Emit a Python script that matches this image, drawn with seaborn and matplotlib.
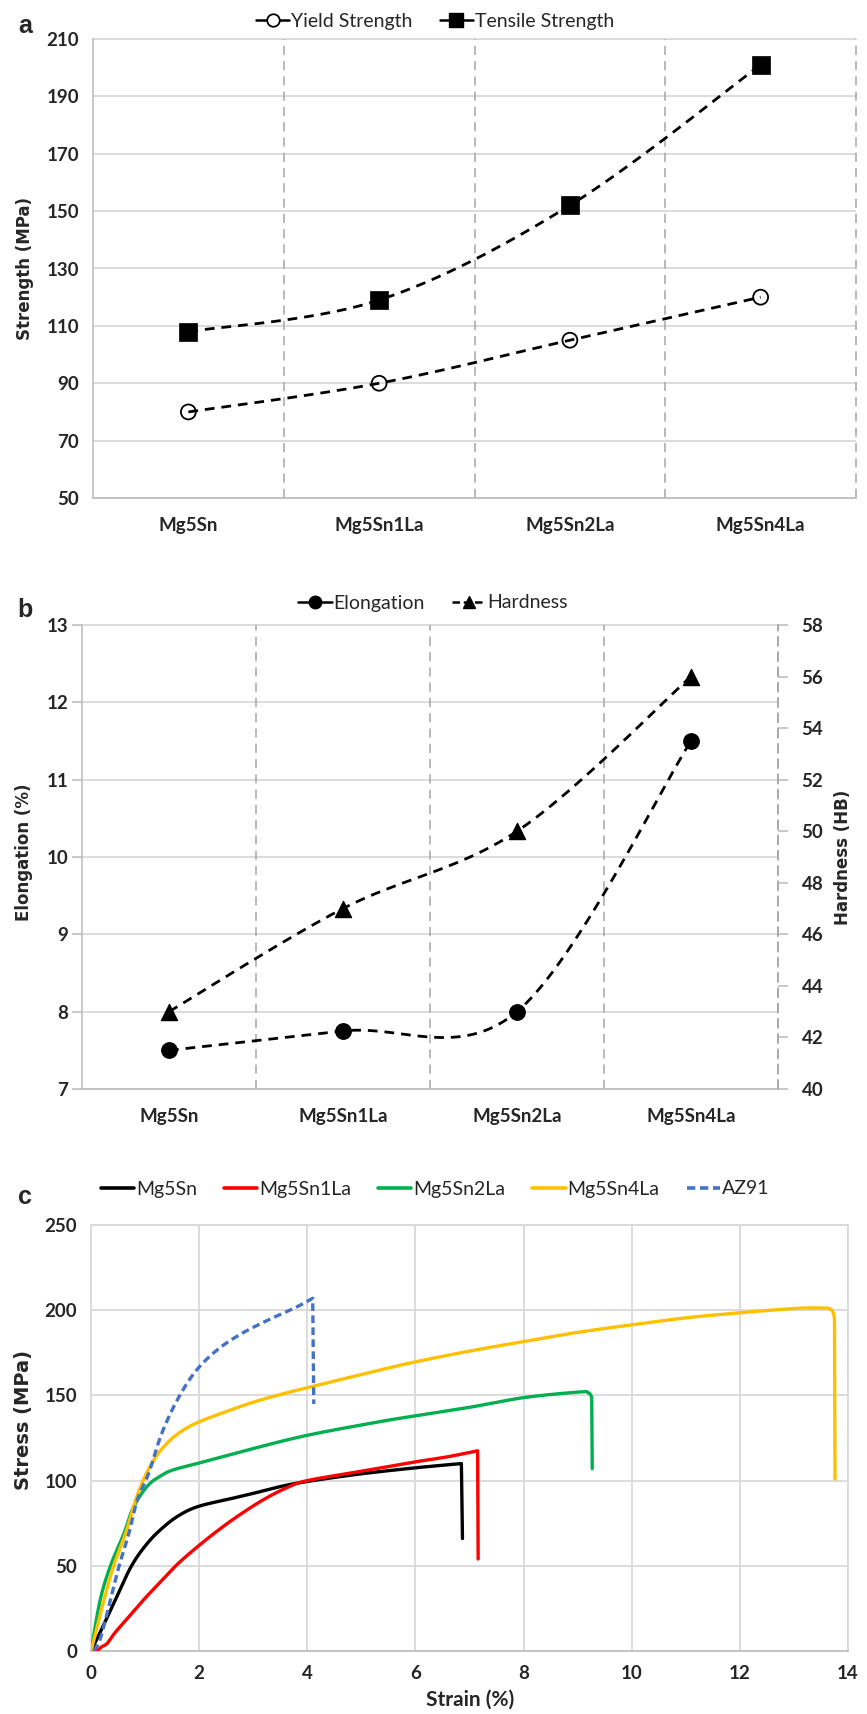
import numpy as np
import pandas as pd
import matplotlib
matplotlib.use("Agg")
import matplotlib.pyplot as plt
import seaborn as sns
from matplotlib.lines import Line2D

# ---------------- data ----------------
alloys = ["Mg5Sn", "Mg5Sn1La", "Mg5Sn2La", "Mg5Sn4La"]
yield_strength = [80, 90, 105, 120]
tensile_strength = [108, 119, 152, 201]
elongation = [7.5, 7.75, 8.0, 11.5]
hardness = [43, 47, 50, 56]

strain_mg5sn = [0, 0.17, 0.45, 0.75, 1.05, 1.35, 1.65, 2.0, 2.6, 3.0, 3.5, 4.0, 5.0, 6.0, 6.5, 6.85, 6.87]
stress_mg5sn = [0, 11, 30, 50, 63.5, 73, 80, 85, 89.5, 92.5, 96.5, 99.5, 104, 107.5, 109, 110, 66]

strain_1la = [0.1, 0.2, 0.3, 0.45, 0.7, 1.0, 1.3, 1.6, 2.0, 2.4, 2.8, 3.2, 3.6, 4.0, 5.0, 6.0, 6.6, 7.15, 7.16]
stress_1la = [0, 2.5, 4.5, 11, 20, 31, 41, 51, 62, 72, 81, 89, 95.5, 100, 105.5, 111, 114, 117.5, 54]

strain_2la = [0, 0.17, 0.36, 0.61, 0.78, 1.04, 1.3, 1.53, 1.96, 2.9, 4.0, 5.36, 6.0, 7.0, 8.0, 9.03, 9.2, 9.26, 9.27]
stress_2la = [0, 30, 50, 69, 84, 96.7, 103, 106.4, 110, 118, 126.6, 134.7, 138, 143, 148.7, 152, 151.5, 149, 107]

strain_4la = [0, 0.24, 0.42, 0.64, 0.83, 1.0, 1.2, 1.44, 1.7, 2.0, 2.5, 3.0, 3.5, 4.06, 5.36, 6.0, 7.0, 8.0, 9.0, 10.0, 11.0, 12.0, 13.0, 13.5, 13.65, 13.72, 13.75, 13.76]
stress_4la = [0, 30, 50, 69, 89, 102.5, 114, 123, 129.5, 134.5, 140.5, 146, 150.5, 155, 165, 169.7, 176, 181.6, 187, 191.4, 195.5, 198.5, 201, 201.3, 201, 199, 195, 101]

strain_az91 = [0.05, 0.17, 0.36, 0.52, 0.7, 0.86, 1.07, 1.3, 1.59, 1.93, 2.33, 2.77, 3.26, 3.81, 4.1, 4.12]
stress_az91 = [0, 7, 30, 50, 69, 89, 104.5, 127, 147, 164, 176.6, 186, 194, 202, 207, 145]

curve_names = ["Mg5Sn", "Mg5Sn1La", "Mg5Sn2La", "Mg5Sn4La", "AZ91"]
curve_colors = ["#000000", "#FF0000", "#00B050", "#FFC000", "#4472C4"]

# ---------------- style ----------------
sns.set_style("white")
plt.rcParams['font.family'] = ['Lato', 'DejaVu Sans']
GRID = "#D9D9D9"
AXC = "#BFBFBF"
SEP = "#A6A6A6"
W, H = 867, 1714

def fx(px):
    return px / W

def fy(py):
    return 1 - py / H

def rect(l, t, r, b):
    return [l / W, 1 - b / H, (r - l) / W, (b - t) / H]

def excel_smooth(xs, ys, n=40):
    p = np.column_stack([np.asarray(xs, float), np.asarray(ys, float)])
    m = len(p)
    out = []
    t = np.linspace(0, 1, n)[:, None]
    for i in range(m - 1):
        p0 = p[max(i - 1, 0)]; p1 = p[i]; p2 = p[i + 1]; p3 = p[min(i + 2, m - 1)]
        c1 = p1 + (p2 - p0) / 6.0
        c2 = p2 - (p3 - p1) / 6.0
        seg = ((1 - t) ** 3) * p1 + 3 * ((1 - t) ** 2) * t * c1 + 3 * (1 - t) * t ** 2 * c2 + t ** 3 * p2
        out.append(seg if i == 0 else seg[1:])
    s = np.vstack(out)
    return s[:, 0], s[:, 1]

fig = plt.figure(figsize=(W / 100, H / 100), dpi=100)

DASH = (0, (3.5, 2.5))
TFS = 13.5

def category_frame(ax, ylim, yticks):
    ax.set_xlim(-0.5, 3.5)
    ax.set_ylim(*ylim)
    ax.set_yticks(yticks)
    ax.hlines(yticks, -0.5, 3.5, color=GRID, lw=1.3, zorder=0, clip_on=False)
    for xv in [0.5, 1.5, 2.5, 3.5]:
        ax.axvline(xv, color=SEP, lw=1.1, ls=(0, (6, 4)), zorder=0, clip_on=False)
    for s in ["top", "right"]:
        ax.spines[s].set_visible(False)
    ax.spines["left"].set_color(AXC)
    ax.spines["bottom"].set_color(AXC)
    ax.spines["left"].set_linewidth(1.2)
    ax.spines["bottom"].set_linewidth(1.2)
    ax.set_xticks(range(4))
    ax.set_xticklabels(alloys, fontsize=TFS, fontweight='bold')
    ax.set_xticks([-0.5, 0.5, 1.5, 2.5, 3.5], minor=True)
    ax.tick_params(axis='x', which='major', length=0, pad=14)
    ax.tick_params(axis='x', which='minor', length=7, color=AXC, width=1.2)
    ax.tick_params(axis='y', length=7, color=AXC, width=1.2, pad=3)
    for lab in ax.get_yticklabels():
        lab.set_fontsize(TFS); lab.set_fontweight('bold')
    ax.set_xlabel(""); ax.set_ylabel("")

# ---------------- panel a ----------------
axa = fig.add_axes(rect(93, 39, 856, 498))
category_frame(axa, (50, 210), list(range(50, 211, 20)))
pos = np.arange(len(alloys))
sx, sy = excel_smooth(pos, tensile_strength)
axa.plot(sx, sy, color='black', lw=2.0, ls=DASH, zorder=2)
sx, sy = excel_smooth(pos, yield_strength)
axa.plot(sx, sy, color='black', lw=2.0, ls=DASH, zorder=2)
sns.scatterplot(x=pos, y=tensile_strength, marker='s', s=165, color='black',
                edgecolor='black', linewidth=0.5, ax=axa, zorder=3)
sns.scatterplot(x=pos, y=yield_strength, marker='o', s=115, facecolor='none',
                edgecolor='black', linewidth=1.3, ax=axa, zorder=3)
fig.text(fx(25), fy(269), "Strength (MPa)", rotation=90, ha='center', va='center',
         fontsize=12, fontweight='bold', family='DejaVu Sans')
h_a = [Line2D([], [], color='black', lw=1.8, marker='o', markersize=9, mfc='white', mec='black', mew=1.3),
       Line2D([], [], color='black', lw=1.8, marker='s', markersize=10, mfc='black', mec='black')]
fig.legend(h_a, ["Yield Strength", "Tensile Strength"], loc='center', ncol=2,
           bbox_to_anchor=(fx(435), fy(21)), frameon=False, fontsize=14,
           handlelength=1.7, handletextpad=0.1, columnspacing=1.4, borderpad=0)

# ---------------- panel b ----------------
axb = fig.add_axes(rect(82, 625, 778, 1089))
category_frame(axb, (7, 13), list(range(7, 14)))
axb2 = axb.twinx()
axb2.set_ylim(40, 58)
axb2.set_yticks(list(range(40, 59, 2)))
for s in ["top", "left", "bottom"]:
    axb2.spines[s].set_visible(False)
axb2.spines["right"].set_color(SEP)
axb2.spines["right"].set_linestyle((0, (6, 4)))
axb2.spines["right"].set_linewidth(1.1)
axb2.tick_params(axis='y', length=7, color=AXC, width=1.2, pad=10)
for lab in axb2.get_yticklabels():
    lab.set_fontsize(TFS); lab.set_fontweight('bold')

sx, sy = excel_smooth(pos, elongation)
axb.plot(sx, sy, color='black', lw=2.0, ls=DASH, zorder=2)
sns.scatterplot(x=pos, y=elongation, marker='o', s=125, color='black',
                edgecolor='black', ax=axb, zorder=3)
sx, sy = excel_smooth(pos, hardness)
axb2.plot(sx, sy, color='black', lw=2.0, ls=DASH, zorder=2)
sns.scatterplot(x=pos, y=hardness, marker='^', s=135, color='black',
                edgecolor='black', ax=axb2, zorder=3)
axb2.set_xlabel(""); axb2.set_ylabel("")
fig.text(fx(24), fy(852), "Elongation (%)", rotation=90, ha='center', va='center',
         fontsize=12, fontweight='bold', family='DejaVu Sans')
fig.text(fx(843), fy(857), "Hardness (HB)", rotation=90, ha='center', va='center',
         fontsize=12, fontweight='bold', family='DejaVu Sans')
h_b = [Line2D([], [], color='black', lw=1.8, marker='o', markersize=9, mfc='black', mec='black'),
       Line2D([], [], color='black', lw=1.8, ls=(0, (3, 1.5)), marker='^', markersize=9, mfc='black', mec='black')]
fig.legend(h_b, ["Elongation", "Hardness"], loc='center', ncol=2,
           bbox_to_anchor=(fx(433), fy(603)), frameon=False, fontsize=14,
           handlelength=1.7, handletextpad=0.1, columnspacing=1.4, borderpad=0)

# ---------------- panel c ----------------
axc = fig.add_axes(rect(91, 1225, 848, 1651))
curves = [(strain_mg5sn, stress_mg5sn), (strain_1la, stress_1la), (strain_2la, stress_2la),
          (strain_4la, stress_4la), (strain_az91, stress_az91)]
for (sx_, sy_), name, col in zip(curves, curve_names, curve_colors):
    # smooth the loading part, keep the final fracture drop straight
    cx, cy = excel_smooth(sx_[:-1], sy_[:-1], n=12)
    cx = np.append(cx, sx_[-1]); cy = np.append(cy, sy_[-1])
    df = pd.DataFrame({"strain": cx, "stress": cy})
    ls = (0, (2.3, 1.3)) if name == "AZ91" else '-'
    sns.lineplot(data=df, x="strain", y="stress", sort=False, estimator=None,
                 color=col, lw=2.4, linestyle=ls, ax=axc, zorder=3)
axc.set_xlim(0, 14)
axc.set_ylim(0, 250)
axc.set_xticks(range(0, 15, 2))
axc.set_yticks(range(0, 251, 50))
axc.grid(True, color=GRID, lw=1.3)
axc.set_axisbelow(True)
for s in axc.spines.values():
    s.set_color(GRID); s.set_linewidth(1.3)
axc.spines["bottom"].set_color(AXC)
axc.tick_params(length=0, pad=10)
for lab in axc.get_xticklabels() + axc.get_yticklabels():
    lab.set_fontsize(TFS); lab.set_fontweight('bold')
axc.set_xlabel(""); axc.set_ylabel("")
fig.text(fx(24), fy(1420), "Stress (MPa)", rotation=90, ha='center', va='center',
         fontsize=14, fontweight='bold', family='DejaVu Sans')
fig.text(fx(470), fy(1700), "Strain (%)", ha='center', va='center',
         fontsize=15, fontweight='bold')
h_c = [Line2D([], [], color=c, lw=2.6, ls=((0, (2.3, 1.3)) if n == "AZ91" else '-'))
       for n, c in zip(curve_names, curve_colors)]
fig.legend(h_c, curve_names, loc='center', ncol=5,
           bbox_to_anchor=(fx(435), fy(1189)), frameon=False, fontsize=14,
           handlelength=1.7, handletextpad=0.1, columnspacing=1.4, borderpad=0)

# panel letters
for letter, py in [("a", 26), ("b", 610), ("c", 1197)]:
    fig.text(fx(25), fy(py), letter, ha='center', va='center', fontsize=18,
             fontweight='bold', family=['Liberation Sans', 'DejaVu Sans'])

fig.savefig("out.png", dpi=100)
